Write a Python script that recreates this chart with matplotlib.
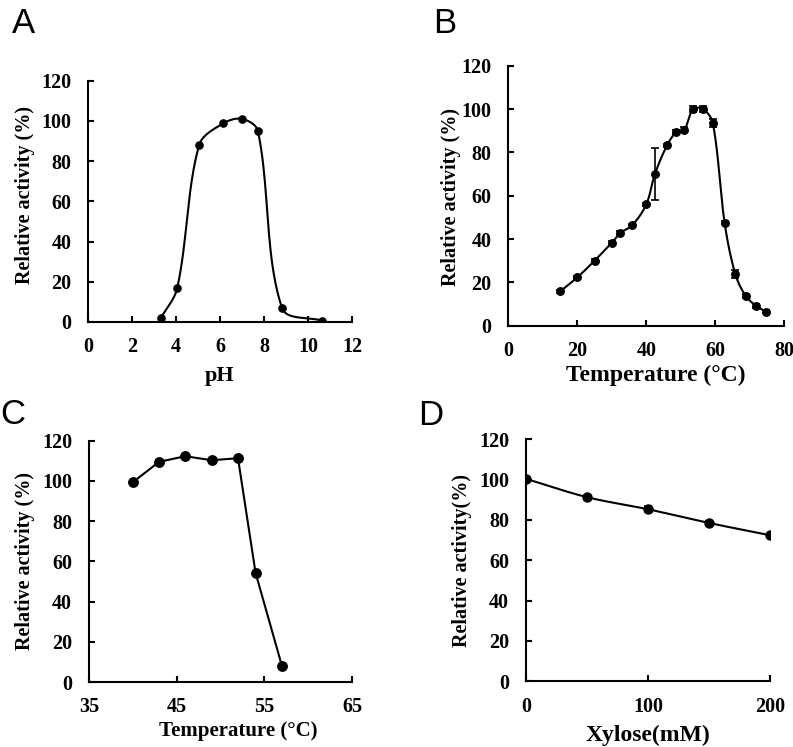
import matplotlib
matplotlib.use("Agg")
import matplotlib.pyplot as plt
import numpy as np

plt.rcParams['font.family'] = ['Liberation Serif', 'DejaVu Serif']
plt.rcParams['font.weight'] = 'bold'
plt.rcParams['axes.labelweight'] = 'bold'

# A: pH profile
ph = [3.3, 4.05, 5.05, 6.15, 7.0, 7.72, 8.82, 10.65]
ph_act = [1.8, 16.7, 88, 98.8, 101, 95, 6.8, 0.6]

# B: temperature profile
temp_b = [15, 20, 25, 30, 32.5, 36, 40, 42.5, 46, 48.7, 51, 53.6, 56.5, 59.3, 62.7, 65.8, 68.8, 71.8, 74.7]
act_b = [15.8, 22.3, 30, 38.3, 42.8, 46.5, 56, 70, 83.2, 89.4, 90.5, 100, 100, 93.5, 47.5, 23.8, 13.8, 9.2, 6.5]
err_b = [0.6, 0.8, 0.6, 0.8, 0.8, 0.6, 0.8, 12, 0.8, 0.8, 1.0, 1.5, 1.2, 2.0, 0.6, 2.0, 1.0, 1.0, 0.6]

# C: thermostability
temp_c = [40, 43, 46, 49, 52, 54, 57]
act_c = [99.3, 109.5, 112.3, 110.3, 111.3, 54.3, 8.1]

# D: xylose tolerance
xylose = [0, 50, 100, 150, 200]
act_d = [100.4, 91.3, 85.3, 78.5, 72.4]
err_d = [0.5, 0.8, 1.5, 0.8, 0.6]


def smooth(x, y, sx, sy, n=40):
    # excel-like smoothed line, tangents weighted by segment length (screen units)
    p = np.column_stack([np.asarray(x, float) * sx, np.asarray(y, float) * sy])
    m = len(p)
    cb = p.copy()
    ca = p.copy()
    for i in range(m):
        prev = p[max(i - 1, 0)]
        nxt = p[min(i + 1, m - 1)]
        tan = nxt - prev
        dp = np.hypot(*(p[i] - prev))
        dn = np.hypot(*(nxt - p[i]))
        tot = dp + dn
        if tot == 0:
            continue
        ca[i] = p[i] + tan * dn / tot / 3
        cb[i] = p[i] - tan * dp / tot / 3
    t = np.linspace(0, 1, n)[:, None]
    out = []
    for i in range(m - 1):
        p1, c1, c2, p2 = p[i], ca[i], cb[i + 1], p[i + 1]
        seg = ((1 - t) ** 3) * p1 + 3 * ((1 - t) ** 2) * t * c1 + 3 * (1 - t) * t ** 2 * c2 + t ** 3 * p2
        out.append(seg)
    out = np.vstack(out)
    return out[:, 0] / sx, out[:, 1] / sy


def style(ax, xlim, xticks):
    ax.set_xlim(*xlim)
    ax.set_ylim(0, 120)
    ax.set_xticks(xticks)
    ax.set_yticks(range(0, 121, 20))
    for s in ['top', 'right']:
        ax.spines[s].set_visible(False)
    for s in ['left', 'bottom']:
        ax.spines[s].set_linewidth(1.5)
    ax.tick_params(direction='in', length=4.5, width=1.5, labelsize=14.5)
    ax.tick_params(axis='y', pad=12)
    ax.tick_params(axis='x', pad=11)


fig = plt.figure(figsize=(7.93, 7.47), dpi=100)

axA = fig.add_axes([0.111, 0.569, 0.333, 0.323])
axB = fig.add_axes([0.641, 0.564, 0.348, 0.348])
axC = fig.add_axes([0.112, 0.087, 0.332, 0.323])
axD = fig.add_axes([0.663, 0.088, 0.308, 0.324])

# A
sx, sy = smooth(ph, ph_act, 264 / 12, 241 / 120)
axA.plot(sx, sy, color='black', lw=1.5)
axA.plot(ph, ph_act, 'o', color='black', ms=5.2)
style(axA, (0, 12), range(0, 13, 2))
axA.set_xlabel('pH', fontsize=16, va='center')
axA.xaxis.set_label_coords(0.5, -0.224)
axA.set_ylabel('Relative activity (%)', fontsize=14.5, va='center')
axA.yaxis.set_label_coords(-0.239, 0.525)

# B
sx, sy = smooth(temp_b, act_b, 276 / 80, 260 / 120)
axB.plot(sx, sy, color='black', lw=1.5)
axB.errorbar(temp_b, act_b, yerr=err_b, fmt='none', ecolor='black', elinewidth=1.2, capsize=3, capthick=1.2)
axB.plot(temp_b, act_b, 'o', color='black', ms=5.4)
style(axB, (0, 80), range(0, 81, 20))
axB.set_xlabel('Temperature (°C)', fontsize=17, va='center')
axB.xaxis.set_label_coords(0.533, -0.192)
axB.set_ylabel('Relative activity (%)', fontsize=14.5, va='center')
axB.yaxis.set_label_coords(-0.2065, 0.496)

# C
axC.plot(temp_c, act_c, '-o', color='black', lw=1.5, ms=6.8)
style(axC, (35, 65), range(35, 66, 10))
axC.set_xlabel('Temperature (°C)', fontsize=15, va='center')
axC.xaxis.set_label_coords(0.567, -0.203)
axC.set_ylabel('Relative activity (%)', fontsize=14.5, va='center')
axC.yaxis.set_label_coords(-0.243, 0.502)

# D
sx, sy = smooth(xylose, act_d, 244 / 200, 242 / 120)
axD.plot(sx, sy, color='black', lw=1.5)
axD.errorbar(xylose, act_d, yerr=err_d, fmt='none', ecolor='black', elinewidth=1.2, capsize=3, capthick=1.2)
axD.plot(xylose, act_d, 'o', color='black', ms=6.5)
style(axD, (0, 200), [0, 100, 200])
axD.set_xlabel('Xylose(mM)', fontsize=17, va='center')
axD.xaxis.set_label_coords(0.5, -0.223)
axD.set_ylabel('Relative activity(%)', fontsize=14.5, va='center')
axD.yaxis.set_label_coords(-0.262, 0.5)

# panel letters
for lab, x, y in [('A', 12, 33), ('B', 433, 33), ('C', 0, 424), ('D', 418, 425)]:
    fig.text(x / 793, 1 - y / 747, lab, fontsize=25, fontweight='normal',
             family='Liberation Sans', ha='left', va='baseline')

fig.savefig('out.png', dpi=100)
